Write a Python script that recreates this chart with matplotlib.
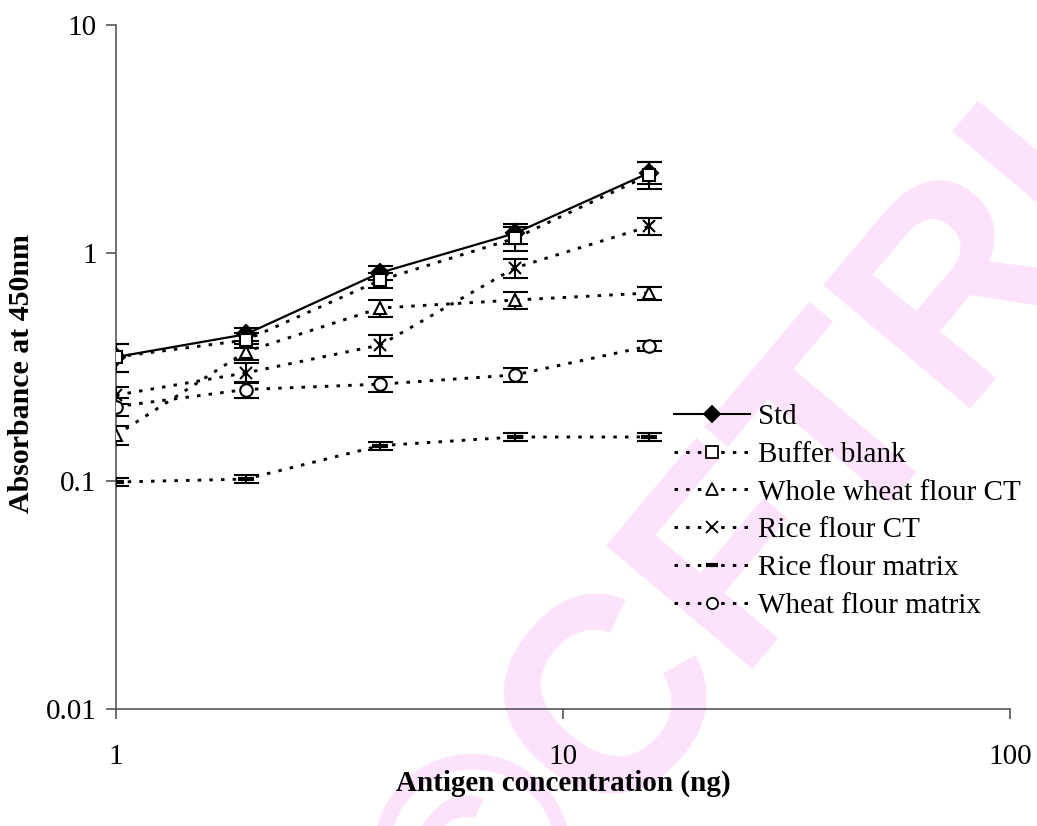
import numpy as np
import matplotlib.pyplot as plt
from matplotlib.ticker import FixedLocator, FixedFormatter, NullLocator

# antigen amounts (ng), two-fold dilution series
conc = [1.0, 1.95, 3.9, 7.8, 15.6]

std = [0.35, 0.44, 0.82, 1.22, 2.25]
std_err = [0.05, 0.03, 0.06, 0.12, 0.25]
buffer_blank = [0.35, 0.415, 0.76, 1.16, 2.2]
buffer_err = [0.05, 0.03, 0.06, 0.14, 0.3]
whole_wheat_ct = [0.159, 0.369, 0.574, 0.622, 0.668]
whole_wheat_err = [0.015, 0.03, 0.05, 0.055, 0.045]
rice_ct = [0.238, 0.298, 0.395, 0.86, 1.31]
rice_ct_err = [0.02, 0.03, 0.04, 0.08, 0.11]
rice_matrix = [0.099, 0.102, 0.143, 0.156, 0.156]
rice_matrix_err = [0.004, 0.004, 0.006, 0.006, 0.006]
wheat_matrix = [0.212, 0.252, 0.266, 0.292, 0.391]
wheat_matrix_err = [0.02, 0.02, 0.02, 0.02, 0.02]

plt.rcParams['font.family'] = ['Liberation Serif', 'DejaVu Serif']

fig = plt.figure(figsize=(10.37, 8.26), dpi=100)
ax = fig.add_axes([0.1119, 0.1416, 0.862, 0.8281])
ax.set_zorder(1)
ax.set_facecolor('none')

# faint watermark behind the plot
fig.text(0.726, 0.333, '\u00a9CFTRI', fontsize=200, fontweight='bold',
         family='Liberation Sans', color='#fce3fb', rotation=50,
         ha='center', va='center', zorder=0)

dots = (0, (1.2, 2.8))
series = [
    (std, std_err, 'D', 'k', '-', 'Std'),
    (buffer_blank, buffer_err, 's', 'white', dots, 'Buffer blank'),
    (whole_wheat_ct, whole_wheat_err, '^', 'white', dots, 'Whole wheat flour CT'),
    (rice_ct, rice_ct_err, 'x', 'white', dots, 'Rice flour CT'),
    (rice_matrix, rice_matrix_err, '_', 'white', dots, 'Rice flour matrix'),
    (wheat_matrix, wheat_matrix_err, 'o', 'white', dots, 'Wheat flour matrix'),
]
handles = []
for vals, err, mk, fc, ls, name in series:
    ax.errorbar(conc, vals, yerr=err, fmt='none', ecolor='k', elinewidth=1.5,
                capsize=9, capthick=1.5, zorder=3)
    ms = 9 if mk != '_' else 11
    mew = 1.5 if mk != '_' else 3
    ax.plot(conc, vals, color='k', lw=2.1 if ls == dots else 1.6,
            linestyle=ls, marker=mk, markersize=ms, markerfacecolor=fc,
            markeredgecolor='k', markeredgewidth=mew, zorder=4)
    h, = ax.plot([], [], color='k', lw=2.1 if ls == dots else 1.5,
                 linestyle=ls, marker=mk,
                 markersize=8 if mk != '_' else 9, markerfacecolor=fc,
                 markeredgecolor='k', markeredgewidth=1.3 if mk != '_' else 3,
                 label=name)
    handles.append(h)

ax.set_xscale('log')
ax.set_yscale('log')
ax.set_xlim(1, 100)
ax.set_ylim(0.01, 10)

ax.xaxis.set_major_locator(FixedLocator([1, 10, 100]))
ax.xaxis.set_major_formatter(FixedFormatter(['1', '10', '100']))
ax.xaxis.set_minor_locator(NullLocator())
ax.yaxis.set_major_locator(FixedLocator([0.01, 0.1, 1, 10]))
ax.yaxis.set_major_formatter(FixedFormatter(['0.01', '0.1', '1', '10']))
ax.yaxis.set_minor_locator(NullLocator())

for side in ['top', 'right']:
    ax.spines[side].set_visible(False)
for side in ['left', 'bottom']:
    ax.spines[side].set_color('#555555')
    ax.spines[side].set_linewidth(1.2)
ax.tick_params(axis='both', direction='out', length=7, width=1.2,
               color='#555555', labelsize=21, pad=7)
ax.tick_params(axis='x', pad=18)

ax.set_xlabel('Antigen concentration (ng)', fontsize=21, fontweight='bold')
ax.xaxis.set_label_coords(0.5, -0.089)
ax.set_ylabel('Absorbance at 450nm', fontsize=21.5, fontweight='bold')
ax.yaxis.set_label_coords(-0.0906, 0.49)

leg = ax.legend(handles=handles, loc='center left',
                bbox_to_anchor=(0.650, 0.381), bbox_transform=fig.transFigure,
                frameon=False, fontsize=21, handlelength=2.6,
                handletextpad=0.27, labelspacing=0.39, borderpad=0,
                borderaxespad=0)

fig.savefig('out.png', dpi=100)
